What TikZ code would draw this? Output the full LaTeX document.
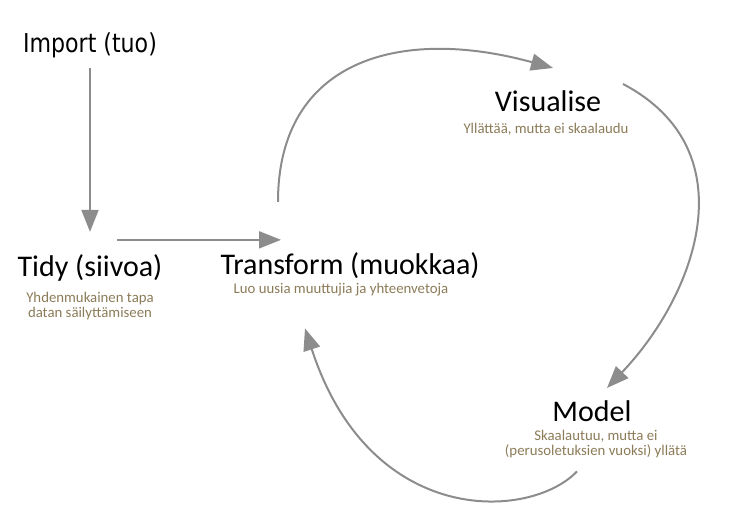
\documentclass[tikz,border=0pt]{standalone}
\usepackage{fontspec}
\setmainfont{Carlito}
\newfontfamily\importfont{DejaVu Sans}[FakeStretch=0.85]
\usetikzlibrary{arrows.meta,positioning}
\definecolor{flowgray}{RGB}{140,140,140}
\definecolor{noteolive}{RGB}{139,123,88}
\begin{document}
\begin{tikzpicture}[x=1pt,y=-1pt,
    flow/.style={-{Triangle[length=22pt,width=17pt]}, line width=2pt, draw=flowgray},
    title/.style={font=\fontsize{30}{31}\selectfont, inner sep=0pt, anchor=base},
    note/.style={font=\fontsize{14.8}{15}\selectfont, text=noteolive, align=center, inner sep=0pt, anchor=base}]
    \useasboundingbox (0,0) rectangle (744,524);
    \node[title, font=\importfont\fontsize{26}{28}\selectfont] (import) at (90,53) {Import (tuo)};
    \node[title] (tidy) at (90,276) {Tidy (siivoa)};
    \node[title] (transform) at (350,274) {Transform (muokkaa)};
    \node[title] (visualise) at (548,112) {Visualise};
    \node[title] (model) at (592,421) {Model};
    \node[note] (tidynote) at (90,317) {Yhdenmukainen tapa\\datan säilyttämiseen};
    \node[note] (transformnote) at (341,293) {Luo uusia muuttujia ja yhteenvetoja};
    \node[note] (visualisenote) at (546,134) {Yllättää, mutta ei skaalaudu};
    \node[note] (modelnote) at (596,455) {Skaalautuu, mutta ei\\(perusoletuksien vuoksi) yllätä};
    \draw[flow] ([shift={(0,9)}]import.south) -- ([shift={(0,-22)}]tidy.north);
    \draw[flow] ([shift={(27,-14)}]tidy.north) -- ([shift={(-69,-12)}]transform.north);
    \draw[flow] ([shift={(-72,-50)}]transform.north) .. controls +(0,-142) and +(-153,-42) .. ([shift={(5,-23)}]visualise.north);
    \draw[flow] ([shift={(75,-7)}]visualise.north) .. controls +(127,67) and +(88,-92) .. ([shift={(15,-12)}]model.north);
    \draw[flow] ([shift={(-15,50)}]model.south) .. controls +(-47,49) and +(65,200) .. ([shift={(-45,50)}]transform.south);
\end{tikzpicture}
\end{document}
